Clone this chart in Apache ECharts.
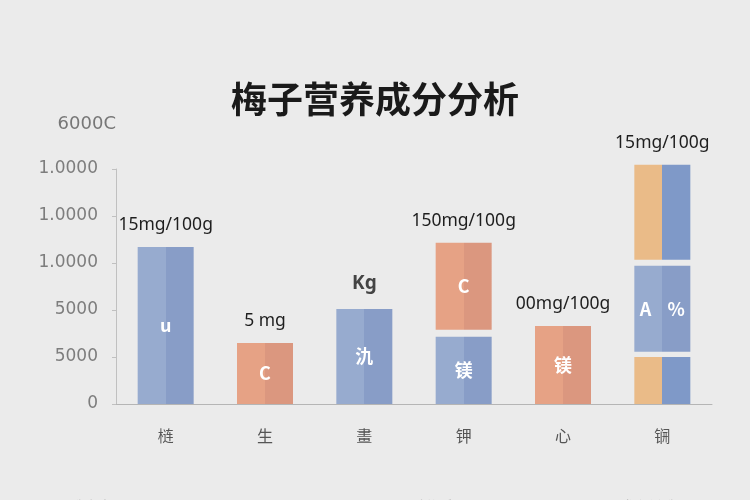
<!DOCTYPE html>
<html><head><meta charset="utf-8">
<script src="https://cdn.jsdelivr.net/npm/echarts@6/dist/echarts.min.js"></script>
<style>html,body{margin:0;padding:0;background:#ebebeb;}#c{width:750px;height:500px;}</style>
</head><body><div id="c"></div>
<script>
// ---- data ----
var categories = ['梿', '生', '畫', '钾', '心', '锎'];
var yTickLabels = ['0', '5000', '5000', '1.0000', '1.0000', '1.0000'];
var yAxisName = '6000C';
var seg1Values = [3.34, 1.30, 2.02, 1.43, 1.66, 1.00];
var gap1Values = [0, 0, 0, 0.15, 0, 0.11];
var seg2Values = [0, 0, 0, 1.85, 0, 1.83];
var gap2Values = [0, 0, 0, 0, 0, 0.13];
var seg3Values = [0, 0, 0, 0, 0, 2.02];
var topLabels = ['15mg/100g', '5 mg', 'Kg', '150mg/100g', '00mg/100g', '15mg/100g'];
var seg1Inner = ['u', 'C', '氿', '镁', '镁', ''];
var seg2Inner = ['', '', '', 'C', '', 'A    %'];
var seg3Inner = ['', '', '', '', '', ''];
var legendNames = ['维生素', '矿物质', '膳食纤维'];

// ---- styles ----
function split(a, b) {
  return {type: 'linear', x: 0, y: 0, x2: 1, y2: 0,
    colorStops: [{offset: 0, color: a}, {offset: 0.5, color: a}, {offset: 0.5, color: b}, {offset: 1, color: b}]};
}
var palette = {
  blue: split('#97abcf', '#889dc7'),
  orange: split('#e6a285', '#db977f'),
  mixed: split('#eabb88', '#7f99c8')
};
var seg1Kind = ['blue', 'orange', 'blue', 'blue', 'orange', 'mixed'];
var seg2Kind = ['', '', '', 'orange', '', 'blue'];
var seg3Kind = ['', '', '', '', '', 'mixed'];
var legendColors = ['#a9b6ce', '#7e8ebb', '#e7a89c'];

function buildData(vals, kinds, inner) {
  return vals.map(function (v, i) {
    var item = {value: v, itemStyle: {color: kinds[i] ? palette[kinds[i]] : 'transparent'}};
    item.label = v > 0 ? {
      show: true, position: 'inside', color: '#ffffff', fontSize: 18, fontWeight: 'bold',
      fontFamily: 'Noto Sans CJK SC', formatter: inner[i] || ' '
    } : {show: false};
    return item;
  });
}

var series = [
  {name: legendNames[0], type: 'bar', stack: 'a', barWidth: 56, clip: false, itemStyle: {color: legendColors[0]},
    data: buildData(seg1Values, seg1Kind, seg1Inner)},
  {name: 'gap1', type: 'bar', stack: 'a', clip: false, silent: true, itemStyle: {color: 'transparent'},
    data: gap1Values},
  {name: legendNames[1], type: 'bar', stack: 'a', clip: false, itemStyle: {color: legendColors[1]},
    data: buildData(seg2Values, seg2Kind, seg2Inner)},
  {name: 'gap2', type: 'bar', stack: 'a', clip: false, silent: true, itemStyle: {color: 'transparent'},
    data: gap2Values},
  {name: legendNames[2], type: 'bar', stack: 'a', clip: false, itemStyle: {color: legendColors[2]},
    data: buildData(seg3Values, seg3Kind, seg3Inner)},
  // top value labels: zero-height stacked bar on top of everything
  {name: 'top', type: 'bar', stack: 'a', clip: false, silent: true, itemStyle: {color: 'transparent'},
    data: topLabels.map(function (t) {
      var isKg = t === 'Kg';
      return {value: 0, label: {
        show: true, position: 'top', distance: isKg ? 16 : 13, formatter: t,
        color: isKg ? '#444444' : '#1e1e1e', fontWeight: isKg ? 'bold' : 'normal',
        fontSize: isKg ? 19 : 17.5, fontFamily: 'Noto Sans'
      }};
    })}
];

var chart = echarts.init(document.getElementById('c'));
chart.setOption({
  backgroundColor: '#ebebeb',
  animation: false,
  title: {
    text: '梅子营养成分分析', left: 'center', top: 76,
    textStyle: {fontSize: 36, fontWeight: 'bold', color: '#1a1a1a', fontFamily: 'Noto Sans CJK SC'}
  },
  legend: legendNames.map(function (n, i) {
    return {data: [n], left: [45, 387, 595][i], top: 495, itemWidth: 15, itemHeight: 14,
      textStyle: {color: '#bbbbbb', fontSize: 14}, selectedMode: false};
  }),
  grid: {left: 116, right: 38, top: 169, bottom: 96},
  xAxis: {
    type: 'category', data: categories,
    axisLine: {lineStyle: {color: '#b5b5b5', width: 1}},
    axisTick: {show: false},
    axisLabel: {color: '#555555', fontSize: 16, margin: 24, fontFamily: 'Noto Sans CJK SC'}
  },
  yAxis: {
    type: 'value', min: 0, max: 5, interval: 1,
    name: yAxisName, nameLocation: 'end', nameGap: 36,
    nameTextStyle: {color: '#777777', fontSize: 18, align: 'right', fontFamily: 'DejaVu Sans'},
    axisLine: {show: true, lineStyle: {color: '#c0c0c0'}},
    axisTick: {show: true, length: 4, lineStyle: {color: '#c0c0c0'}},
    splitLine: {show: false},
    axisLabel: {
      color: '#7d7d7d', fontSize: 17, margin: 18, fontFamily: 'DejaVu Sans',
      formatter: function (v) { return yTickLabels[Math.round(v)]; }
    }
  },
  series: series
});
</script>
</body></html>
